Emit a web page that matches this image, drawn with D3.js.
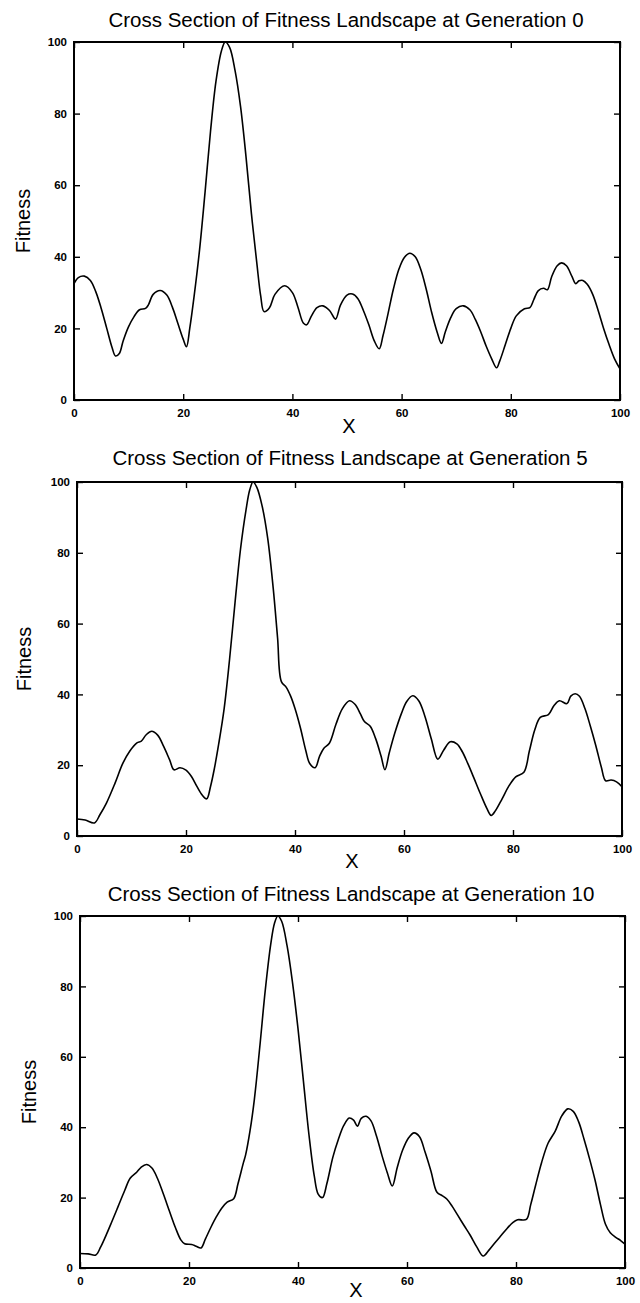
<!DOCTYPE html>
<html>
<head>
<meta charset="utf-8">
<script src="https://cdn.jsdelivr.net/npm/d3@7"></script>
<style>
  body { margin: 0; background: #fff; }
  svg { display: block; }
  text { font-family: "Liberation Sans", Arial, sans-serif; fill: #000; }
</style>
</head>
<body>
<svg id="chart" width="640" height="1303"></svg>
<script>
// chart values
const titles = [
  "Cross Section of Fitness Landscape at Generation 0",
  "Cross Section of Fitness Landscape at Generation 5",
  "Cross Section of Fitness Landscape at Generation 10"
];
const xTicks = [0, 20, 40, 60, 80, 100];
const yTicks = [0, 20, 40, 60, 80, 100];
const xLabel = "X";
const yLabel = "Fitness";

// [x, fitness]
const gen0 = [[0,32.5],[0.8,34.2],[1.9,34.6],[3,33.4],[4,30.2],[5,25.5],[6,20],[7,14.5],[7.6,12.3],[8.3,13],
  [9,16.5],[10,20.5],[11,23.3],[12,25.2],[13.1,25.6],[13.6,26.5],[14.5,29.5],[15.8,30.6],[17,29.3],[18,26],
  [19,21.5],[20,17],[20.6,14.9],[21.2,20],[22,29],[23,42],[24,58],[25,75],[26,89],[27,97.5],[27.7,100],
  [28.5,98.5],[29.5,92],[30.5,82],[31.5,68],[32.5,52],[33.5,38],[34.2,29],[34.8,24.7],[35.8,25.8],[36.8,29.5],
  [38.6,31.9],[40,30],[41,26],[42,21.5],[42.6,21],[43.5,23.5],[44.5,25.8],[45.6,26.3],[46.8,25],[47.9,22.6],
  [48.8,26.5],[50,29.3],[51,29.6],[52,28.3],[53,25],[54,21],[55,16.5],[55.9,14.3],[56.6,18],[57.5,24],
  [58.5,31],[59.5,36.5],[60.5,39.8],[61.5,41],[62.5,40],[63.5,36.5],[64.5,31],[65.5,24.5],[66.5,19],[67.3,15.8],
  [68,19],[69,23],[70,25.5],[71.3,26.3],[72.5,25.2],[73.5,22.5],[74.5,19],[75.5,15],[76.5,11.5],[77.4,9],
  [78,11],[79,15.5],[80,20],[81,23.5],[82.5,25.5],[83.5,25.8],[84.2,28],[85,30.5],[86,31.2],[86.7,30.8],
  [87.5,34.5],[88.5,37.5],[89.3,38.3],[90.2,37.5],[91.2,34.5],[91.9,32.5],[92.5,33.3],[93.2,33.4],[94,32.3],
  [95,29.5],[96,25],[97,20],[98,15.5],[99,11.5],[100,8.7]];

const gen5 = [[0,4.8],[1.5,4.5],[3.2,3.7],[4.2,6],[5.4,9.3],[7,15],[8.4,20.5],[9.7,24],[11,26.3],[11.8,26.8],
  [12.7,28.6],[13.7,29.6],[14.8,28.5],[15.9,25.3],[17,21.5],[17.8,18.7],[18.9,19.3],[20,18.6],[21,16.8],[22,14],
  [23,11.5],[23.8,10.5],[24.5,14],[25.2,19],[26,26],[27,36],[28,50],[29,66],[30,81],[31,92],[31.7,97.8],
  [32.3,100],[33,98.5],[34,93],[35,84],[36,70],[36.8,56],[37.5,43.6],[38.4,42],[39.2,39.5],[40,36],[41,30.5],
  [42,24],[42.7,20.5],[43.7,19.3],[44.5,22.5],[45.3,24.8],[46.3,26.2],[47.5,31.5],[48.7,36],[50,38.2],[51,37.2],
  [52,34.5],[52.7,32.4],[53.8,31],[54.8,27.5],[55.8,22.5],[56.5,18.7],[57.3,23.5],[58.3,29],[59.5,34.5],[60.5,38],
  [61.6,39.6],[62.7,38.2],[63.8,34],[65,27.5],[66.2,21.7],[67.3,24.3],[68.5,26.6],[69.7,26],[70.7,23.8],[71.7,20.5],
  [72.8,16.5],[74,12],[75.2,7.8],[76,5.8],[76.8,7.2],[78,10.5],[79.2,14],[80.5,16.7],[82,18],[83,24],[84,30],
  [85,33.5],[86.5,34.3],[87.5,36.8],[88.5,38.2],[89.9,37.4],[90.6,39.5],[91.4,40.2],[92.2,39.5],[93.2,36],
  [94.2,31],[95.2,25.5],[96.2,19.5],[97,15.6],[98,15.8],[99,15.3],[100,13.9]];

const gen10 = [[0,4.1],[1.5,4],[2.9,3.7],[3.8,6],[4.7,9],[5.8,13],[7,17.5],[8.2,22],[9.2,25.5],[10.4,27.2],
  [11.2,28.6],[12.2,29.4],[13.2,28.4],[14.2,25.5],[15.3,21],[16.4,16.2],[17.5,11.5],[18.5,8],[19.2,6.9],[20.5,6.7],
  [21.3,6.2],[22.2,5.7],[23,8.2],[24,11.5],[25,14.5],[26,17],[27,18.7],[28.2,19.7],[29,24],[30,30],[30.4,32.2],
  [31.2,39],[32,48],[33,63],[34,79],[35,92],[35.7,98],[36.3,100],[37,98.5],[38,91.5],[39,81],[40,68],[41,53],
  [42,38],[43,26],[43.7,21],[44.5,20],[45.3,24],[46.4,31.5],[47.4,36.5],[48.4,40.5],[49.4,42.6],[50.2,42],
  [50.9,40.3],[51.6,42.5],[52.5,43.1],[53.4,41.8],[54.4,37.5],[55.4,32],[56.4,27],[57.3,23.3],[58.2,28.5],
  [59.2,33.5],[60.3,37],[61.3,38.4],[62.3,37.3],[63.3,33],[64.4,27.5],[65.5,21.5],[66.5,20.5],[67.3,19.6],
  [68.3,17.5],[69.3,15],[70.5,12],[71.6,9.3],[72.8,6],[74,3.4],[75,5],[76.1,7.1],[77.3,9.3],[78.4,11.3],
  [79.4,12.9],[80.3,13.7],[81.9,13.8],[82.7,18],[83.6,23.5],[84.7,30],[85.9,35.5],[87.2,38.9],[88.4,43.2],
  [89.5,45.2],[90.5,44.5],[91.5,41.5],[92.5,36.5],[93.5,31],[94.5,25],[95.5,18],[96.4,12.5],[97.3,10],
  [98.3,8.7],[99.2,7.8],[100,6.8]];

const series = [gen0, gen5, gen10];

// panel boxes on the page (the scan drifts a little to the right going down)
const panels = [
  { left: 74, right: 620, top: 42,  bottom: 400,  titleX: 346, titleY: 27,  yLabX: 30, xLabX: 349, xLabY: 433 },
  { left: 77, right: 622, top: 482, bottom: 836,  titleX: 350, titleY: 465, yLabX: 31, xLabX: 352, xLabY: 868 },
  { left: 80, right: 625, top: 916, bottom: 1268, titleX: 351, titleY: 901, yLabX: 36, xLabX: 356, xLabY: 1297 }
];

const svg = d3.select("#chart");

panels.forEach(function (p, i) {
  const x = d3.scaleLinear().domain([0, 100]).range([p.left, p.right]);
  const y = d3.scaleLinear().domain([0, 100]).range([p.bottom, p.top]);
  const g = svg.append("g");

  // tick marks point inward on all four sides
  const tickStyle = function (sel) {
    sel.select(".domain").remove();
    sel.selectAll(".tick line").attr("stroke", "#000").attr("stroke-width", 1.4);
    sel.selectAll(".tick text")
      .style("font-family", '"Liberation Sans", Arial, sans-serif')
      .style("font-size", "11.5px")
      .style("font-weight", "bold")
      .attr("fill", "#000");
  };

  g.append("g").attr("transform", `translate(0,${p.bottom})`)
    .call(d3.axisBottom(x).tickValues(xTicks).tickSize(-6).tickPadding(9).tickFormat(d3.format("d")))
    .call(tickStyle);
  g.append("g").attr("transform", `translate(0,${p.top})`)
    .call(d3.axisTop(x).tickValues(xTicks).tickSize(-6).tickFormat(""))
    .call(tickStyle);
  g.append("g").attr("transform", `translate(${p.left},0)`)
    .call(d3.axisLeft(y).tickValues(yTicks).tickSize(-6).tickPadding(7).tickFormat(d3.format("d")))
    .call(tickStyle);
  g.append("g").attr("transform", `translate(${p.right},0)`)
    .call(d3.axisRight(y).tickValues(yTicks).tickSize(-6).tickFormat(""))
    .call(tickStyle);

  // frame
  g.append("rect")
    .attr("x", p.left).attr("y", p.top)
    .attr("width", p.right - p.left).attr("height", p.bottom - p.top)
    .attr("fill", "none").attr("stroke", "#000").attr("stroke-width", 2);

  const line = d3.line()
    .x(d => x(d[0]))
    .y(d => y(d[1]))
    .curve(d3.curveCatmullRom.alpha(0.5));

  g.append("path")
    .datum(series[i])
    .attr("d", line)
    .attr("fill", "none")
    .attr("stroke", "#000")
    .attr("stroke-width", 1.6)
    .attr("stroke-linejoin", "round");

  g.append("text")
    .attr("x", p.titleX).attr("y", p.titleY)
    .attr("text-anchor", "middle")
    .style("font-size", "20.5px")
    .text(titles[i]);

  g.append("text")
    .attr("transform", `translate(${p.yLabX},${(p.top + p.bottom) / 2}) rotate(-90)`)
    .attr("text-anchor", "middle")
    .style("font-size", "20px")
    .text(yLabel);

  g.append("text")
    .attr("x", p.xLabX).attr("y", p.xLabY)
    .attr("text-anchor", "middle")
    .style("font-size", "20px")
    .text(xLabel);
});
</script>
</body>
</html>
